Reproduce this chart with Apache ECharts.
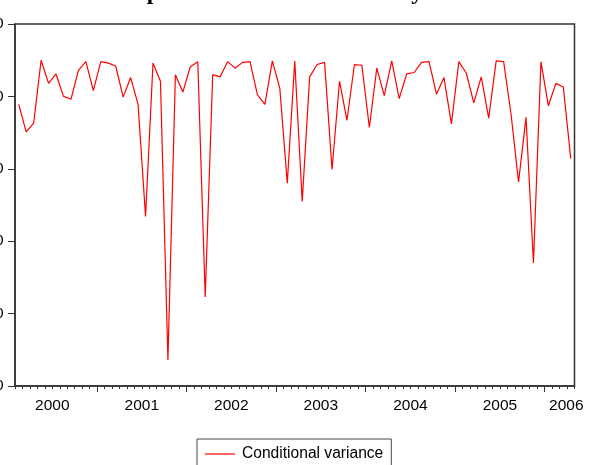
<!DOCTYPE html>
<html>
<head>
<meta charset="utf-8">
<script src="https://cdn.jsdelivr.net/npm/echarts@6/dist/echarts.min.js"></script>
<style>
  html, body { margin: 0; padding: 0; background: #fff; }
  #chart { width: 599px; height: 465px; }
</style>
</head>
<body>
<div id="chart"></div>
<script>
// Monthly observations, 2000M02 .. 2006M04
const months = [
  '2000M02','2000M03','2000M04','2000M05','2000M06','2000M07','2000M08','2000M09','2000M10','2000M11','2000M12',
  '2001M01','2001M02','2001M03','2001M04','2001M05','2001M06','2001M07','2001M08','2001M09','2001M10','2001M11','2001M12',
  '2002M01','2002M02','2002M03','2002M04','2002M05','2002M06','2002M07','2002M08','2002M09','2002M10','2002M11','2002M12',
  '2003M01','2003M02','2003M03','2003M04','2003M05','2003M06','2003M07','2003M08','2003M09','2003M10','2003M11','2003M12',
  '2004M01','2004M02','2004M03','2004M04','2004M05','2004M06','2004M07','2004M08','2004M09','2004M10','2004M11','2004M12',
  '2005M01','2005M02','2005M03','2005M04','2005M05','2005M06','2005M07','2005M08','2005M09','2005M10','2005M11','2005M12',
  '2006M01','2006M02','2006M03','2006M04'
];

// Conditional variance per month
const variance = [
  38.9, 35.1, 36.3, 45.0, 41.8, 43.1, 40.0, 39.6, 43.6, 44.8, 40.8,
  44.8, 44.6, 44.2, 39.9, 42.6, 38.9, 23.4, 44.6, 42.1, 3.6, 43.0, 40.6,
  44.1, 44.8, 12.3, 43.0, 42.7, 44.8, 43.9, 44.7, 44.8, 40.2, 38.9, 44.9,
  41.1, 28.0, 44.9, 25.5, 42.7, 44.4, 44.7, 29.9, 42.1, 36.7, 44.4, 44.3,
  35.7, 43.9, 40.1, 44.9, 39.7, 43.1, 43.3, 44.7, 44.8, 40.3, 42.6, 36.2,
  44.8, 43.2, 39.1, 42.7, 37.0, 44.9, 44.8, 37.5, 28.2, 37.1, 17.0, 44.8,
  38.7, 41.8, 41.3, 31.4
];

// Year tick labels and value-axis ticks
const years = ['2000', '2001', '2002', '2003', '2004', '2005', '2006'];
const yTicks = [0, 10, 20, 30, 40, 50];

// Month positions counted from the start of the first year
const baseYear = +years[0];
const monthPos = s => (+s.slice(0, 4) - baseYear) * 12 + (+s.slice(5)) - 1;
const axisStart = monthPos(months[0]);
const axisEnd = monthPos(months[months.length - 1]) + 1;
const yearTicks = years.map(y => (+y - baseYear) * 12).filter(v => v > axisStart && v < axisEnd);
const yearLabelPos = years.map(y => Math.min((+y - baseYear) * 12 + 6, axisEnd - 1.1));

const FONT = 'Liberation Sans, Arial, Helvetica, sans-serif';
const INK = '#333';

const chart = echarts.init(document.getElementById('chart'), null, { renderer: 'canvas' });
chart.setOption({
  animation: false,
  backgroundColor: '#ffffff',
  title: {
    text: 'Graph of Conditional Volatility',
    left: 106,
    top: -19,
    padding: 0,
    textStyle: { fontFamily: 'Liberation Serif, Times New Roman, serif', fontWeight: 'bold', fontSize: 23.7, color: '#000' }
  },
  grid: {
    left: 15, right: 24.5, top: 24, bottom: 79,
    outerBoundsMode: 'none',
    containLabel: false,
    show: true, borderColor: INK, borderWidth: 1.5, backgroundColor: 'transparent'
  },
  legend: {
    left: 197, top: 439,
    padding: [7, 8, 12, 8],
    borderColor: '#444', borderWidth: 1,
    icon: 'rect',
    itemWidth: 30, itemHeight: 1.2,
    textStyle: { fontFamily: FONT, fontSize: 15.6, color: '#000', padding: [0, 0, 0, 2] },
    data: ['Conditional variance']
  },
  xAxis: [
    {
      type: 'category',
      data: months,
      boundaryGap: true,
      position: 'bottom',
      axisLine: { show: true, lineStyle: { color: INK, width: 1.5 } },
      axisTick: { show: true, interval: 0, length: 3, lineStyle: { color: INK, width: 1 } },
      axisLabel: { show: false },
      splitLine: { show: false }
    },
    {
      type: 'value',
      min: axisStart,
      max: axisEnd,
      position: 'bottom',
      axisLine: { show: false },
      axisTick: { show: true, length: 6, customValues: yearTicks, lineStyle: { color: INK, width: 1 } },
      axisLabel: {
        show: true,
        customValues: yearLabelPos,
        margin: 12,
        hideOverlap: false,
        fontFamily: FONT, fontSize: 15.5, color: '#000',
        formatter: v => String(baseYear + Math.floor(v / 12))
      },
      splitLine: { show: false }
    }
  ],
  yAxis: {
    type: 'value',
    min: yTicks[0],
    max: yTicks[yTicks.length - 1],
    interval: yTicks[1] - yTicks[0],
    axisLine: { show: true, lineStyle: { color: INK, width: 1.5 } },
    axisTick: { show: true, length: 7, lineStyle: { color: INK, width: 1 } },
    axisLabel: { margin: 11.5, fontFamily: FONT, fontSize: 15.5, color: '#000' },
    splitLine: { show: false }
  },
  series: [{
    name: 'Conditional variance',
    type: 'line',
    xAxisIndex: 0,
    data: variance,
    symbol: 'none',
    lineStyle: { color: '#ff0000', width: 1.2 },
    itemStyle: { color: '#ff0000' }
  }]
});
</script>
</body>
</html>
